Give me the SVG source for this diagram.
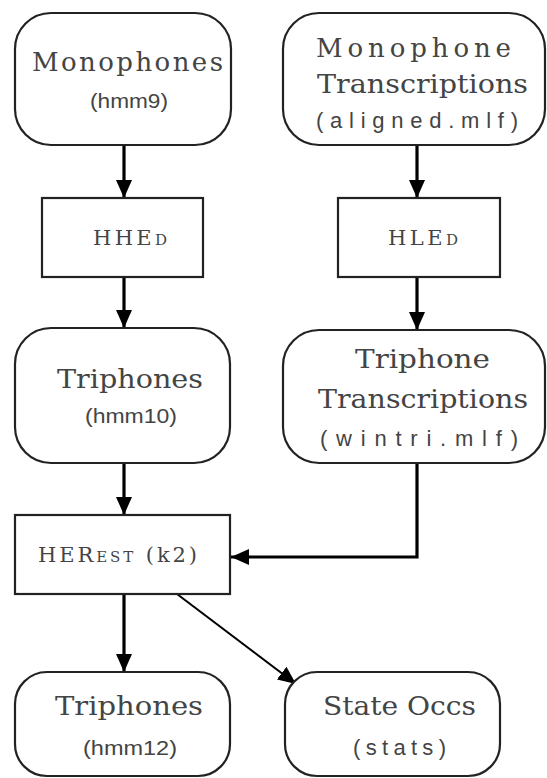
<svg xmlns="http://www.w3.org/2000/svg" width="547" height="778" viewBox="0 0 547 778">
<defs>
<marker id="ah" markerUnits="userSpaceOnUse" viewBox="0 0 18 16" refX="18" refY="8" markerWidth="18" markerHeight="16" orient="auto">
<path d="M0,0 L18,8 L0,16 z" fill="#000"/>
</marker>
<style>
.node{fill:#fff;stroke:#222;stroke-width:2.2}
.t{font-family:"DejaVu Serif","Liberation Serif",serif;fill:#444;font-size:26px}
.s{font-family:"Liberation Sans",sans-serif;fill:#444;font-size:20px}
.m{font-family:"Liberation Sans",sans-serif;fill:#444;font-size:22px}
.tool{font-family:"DejaVu Serif","Liberation Serif",serif;fill:#444;font-size:21px}
.sc{font-size:15px}
.c{fill:none;stroke:#000;stroke-width:3.2}
.thin{fill:none;stroke:#000;stroke-width:2}
</style>
</defs>
<rect width="547" height="778" fill="#fff"/>
<g id="connectors">
<line class="c" x1="124" y1="145" x2="124" y2="198" marker-end="url(#ah)"/>
<line class="c" x1="417" y1="145" x2="417" y2="198" marker-end="url(#ah)"/>
<line class="c" x1="124" y1="277" x2="124" y2="328" marker-end="url(#ah)"/>
<line class="c" x1="417" y1="277" x2="417" y2="330" marker-end="url(#ah)"/>
<line class="c" x1="124" y1="463" x2="124" y2="515" marker-end="url(#ah)"/>
<polyline class="c" points="417,463 417,557 231,557" marker-end="url(#ah)"/>
<line class="c" x1="124" y1="594" x2="124" y2="672" marker-end="url(#ah)"/>
<line class="thin" x1="177" y1="594" x2="296" y2="684" marker-end="url(#ah)"/>
</g>
<g id="monophones">
<rect class="node" x="15" y="13" width="216" height="132" rx="36"/>
<text class="t" x="32" y="71" textLength="191" lengthAdjust="spacing">Monophones</text>
<text class="s" x="90" y="108" textLength="78" lengthAdjust="spacingAndGlyphs">(hmm9)</text>
</g>
<g id="mono-trans">
<rect class="node" x="283" y="13" width="262" height="132" rx="36"/>
<text class="t" x="316" y="57" textLength="195" lengthAdjust="spacing">Monophone</text>
<text class="t" x="317" y="93" textLength="211" lengthAdjust="spacingAndGlyphs">Transcriptions</text>
<text class="m" x="316" y="128" textLength="202" lengthAdjust="spacing">(aligned.mlf)</text>
</g>
<g id="hhed">
<rect class="node" x="42" y="198" width="161" height="79"/>
<text class="tool" x="93" y="245" textLength="74" lengthAdjust="spacing">HHE<tspan class="sc">D</tspan></text>
</g>
<g id="hled">
<rect class="node" x="338" y="198" width="162" height="79"/>
<text class="tool" x="388" y="245" textLength="70" lengthAdjust="spacing">HLE<tspan class="sc">D</tspan></text>
</g>
<g id="triphones10">
<rect class="node" x="15" y="328" width="215" height="135" rx="36"/>
<text class="t" x="57" y="388" textLength="146" lengthAdjust="spacingAndGlyphs">Triphones</text>
<text class="s" x="85" y="423" textLength="92" lengthAdjust="spacingAndGlyphs">(hmm10)</text>
</g>
<g id="tri-trans">
<rect class="node" x="283" y="330" width="262" height="133" rx="36"/>
<text class="t" x="355" y="368" textLength="135" lengthAdjust="spacingAndGlyphs">Triphone</text>
<text class="t" x="318" y="408" textLength="210" lengthAdjust="spacingAndGlyphs">Transcriptions</text>
<text class="m" x="320" y="446" textLength="198" lengthAdjust="spacing">(wintri.mlf)</text>
</g>
<g id="herest">
<rect class="node" x="15" y="515" width="215" height="79"/>
<text class="tool" x="38" y="562" textLength="159" lengthAdjust="spacing">HER<tspan class="sc">EST</tspan> (k2)</text>
</g>
<g id="triphones12">
<rect class="node" x="15" y="672" width="215" height="104" rx="32"/>
<text class="t" x="55" y="715" textLength="148" lengthAdjust="spacingAndGlyphs">Triphones</text>
<text class="s" x="83" y="755" textLength="94" lengthAdjust="spacingAndGlyphs">(hmm12)</text>
</g>
<g id="stateoccs">
<rect class="node" x="285" y="672" width="215" height="104" rx="32"/>
<text class="t" x="323" y="715" textLength="153" lengthAdjust="spacingAndGlyphs">State Occs</text>
<text class="m" x="353" y="755" textLength="93" lengthAdjust="spacing">(stats)</text>
</g>
</svg>
